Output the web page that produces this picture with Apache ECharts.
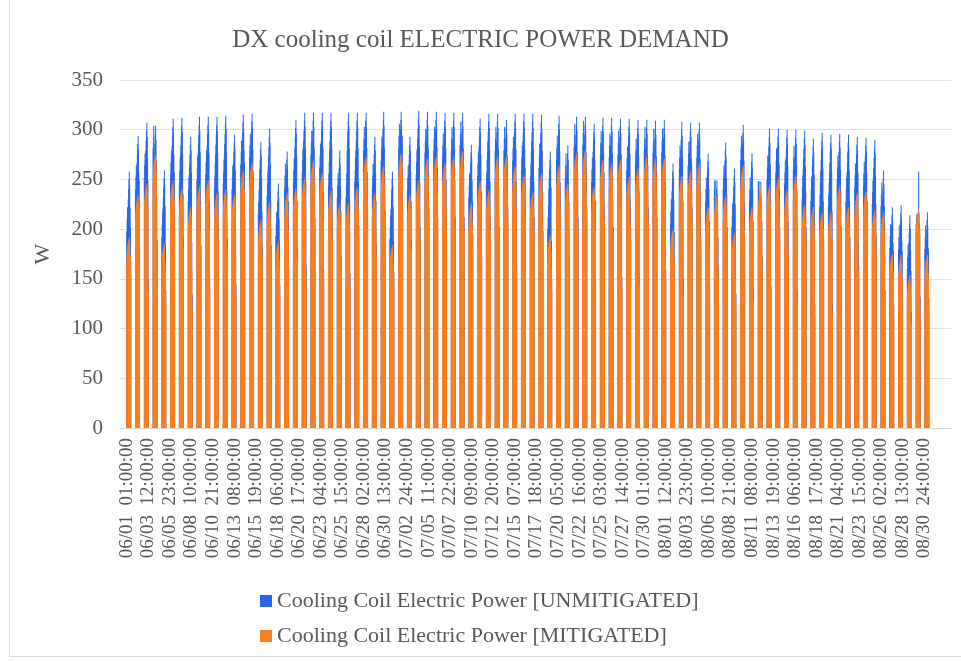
<!DOCTYPE html>
<html lang="en">

<head>
    <meta charset="UTF-8">
    <title>DX cooling coil ELECTRIC POWER DEMAND</title>
    <style>
        body {
            margin: 0px;
            padding: 0px;
            background: #ffffff;
        }

        #coilPower {
            width: 961px;
            height: 661px;
        }
    </style>
</head>

<body>
    <div id="coilPower"></div>
    <script src="https://cdn.jsdelivr.net/npm/echarts@6/dist/echarts.min.js"></script>
    <script>
        // hourly data, 06/01 01:00 .. 08/31 24:00, the coil runs 12 hours a day (01:00-12:00), 0 the rest
        var seriesNames = ['Cooling Coil Electric Power [UNMITIGATED]', 'Cooling Coil Electric Power [MITIGATED]'];
        var monthDays = [['06', 30], ['07', 31], ['08', 31]];
        var labelStep = 59;
        var yTicks = [0, 50, 100, 150, 200, 250, 300, 350];

        // one row per day, the 12 running hours (W)
        var unmitigated = [
            [198, 210, 222, 220, 230, 240, 250, 258, 244, 222, 202, 167],
            [240, 252, 264, 256, 266, 276, 286, 294, 280, 258, 249, 181],
            [252, 264, 276, 269, 279, 289, 299, 307, 293, 271, 249, 149],
            [281, 293, 304, 266, 276, 286, 296, 304, 290, 268, 234, 189],
            [192, 204, 216, 221, 231, 241, 251, 259, 245, 223, 185, 139],
            [255, 267, 279, 273, 283, 293, 303, 311, 297, 275, 257, 212],
            [247, 259, 271, 274, 284, 294, 304, 312, 298, 276, 235, 192],
            [228, 240, 252, 255, 265, 275, 285, 293, 279, 257, 187, 134],
            [249, 261, 273, 275, 285, 295, 305, 313, 299, 277, 228, 184],
            [255, 267, 279, 275, 285, 295, 305, 313, 299, 277, 228, 150],
            [242, 254, 266, 275, 285, 295, 305, 313, 299, 277, 238, 202],
            [246, 258, 270, 276, 286, 296, 306, 314, 300, 278, 238, 191],
            [240, 252, 264, 257, 267, 277, 287, 295, 281, 259, 198, 145],
            [265, 277, 289, 277, 287, 297, 307, 315, 301, 279, 267, 212],
            [272, 284, 296, 278, 288, 298, 308, 316, 302, 280, 258, 218],
            [215, 227, 239, 250, 260, 270, 280, 288, 274, 252, 218, 184],
            [233, 245, 257, 263, 273, 283, 293, 301, 287, 265, 228, 184],
            [193, 205, 217, 208, 218, 228, 238, 246, 232, 210, 188, 144],
            [242, 254, 266, 240, 250, 260, 270, 278, 264, 242, 228, 161],
            [247, 259, 271, 272, 282, 292, 302, 310, 296, 274, 228, 181],
            [257, 269, 281, 279, 289, 299, 309, 317, 303, 281, 248, 164],
            [275, 287, 299, 279, 289, 299, 309, 317, 303, 281, 249, 212],
            [262, 274, 286, 279, 289, 299, 309, 317, 303, 281, 238, 159],
            [244, 256, 268, 279, 289, 299, 309, 317, 303, 281, 242, 202],
            [232, 244, 256, 241, 251, 261, 271, 279, 265, 243, 218, 172],
            [232, 244, 256, 279, 289, 299, 309, 317, 303, 281, 228, 156],
            [248, 260, 272, 279, 289, 299, 309, 317, 303, 281, 248, 204],
            [279, 291, 303, 279, 289, 299, 309, 317, 303, 281, 257, 212],
            [242, 254, 266, 255, 265, 275, 285, 293, 279, 257, 228, 184],
            [269, 281, 293, 280, 290, 300, 310, 318, 304, 282, 258, 219],
            [190, 202, 214, 220, 230, 240, 250, 258, 244, 222, 188, 157],
            [282, 294, 306, 280, 290, 300, 310, 318, 304, 282, 294, 222],
            [240, 252, 264, 255, 265, 275, 285, 293, 279, 257, 228, 189],
            [255, 267, 279, 281, 291, 301, 311, 319, 305, 283, 248, 202],
            [277, 289, 301, 280, 290, 300, 310, 318, 304, 282, 258, 221],
            [279, 291, 303, 280, 290, 300, 310, 318, 304, 282, 261, 212],
            [272, 284, 296, 279, 289, 299, 309, 317, 303, 281, 250, 212],
            [279, 291, 303, 279, 289, 299, 309, 317, 303, 281, 249, 212],
            [284, 296, 308, 279, 289, 299, 309, 317, 303, 281, 264, 212],
            [232, 244, 256, 247, 257, 267, 277, 285, 271, 249, 228, 194],
            [254, 266, 278, 273, 283, 293, 303, 311, 297, 275, 238, 187],
            [245, 257, 269, 278, 288, 298, 308, 316, 302, 280, 248, 212],
            [279, 291, 303, 278, 288, 298, 308, 316, 302, 280, 242, 202],
            [279, 291, 303, 272, 282, 292, 302, 310, 296, 274, 264, 222],
            [269, 281, 293, 278, 288, 298, 308, 316, 302, 280, 248, 164],
            [260, 272, 284, 278, 288, 298, 308, 316, 302, 280, 262, 222],
            [242, 254, 266, 278, 288, 298, 308, 316, 302, 280, 248, 212],
            [262, 274, 286, 277, 287, 297, 307, 315, 301, 279, 238, 198],
            [200, 212, 224, 240, 250, 260, 270, 278, 264, 242, 188, 149],
            [270, 282, 294, 276, 286, 296, 306, 314, 300, 278, 247, 212],
            [252, 264, 276, 246, 256, 266, 276, 284, 270, 248, 228, 172],
            [282, 294, 306, 275, 285, 295, 305, 313, 299, 277, 258, 212],
            [285, 297, 309, 275, 285, 295, 305, 313, 299, 277, 262, 222],
            [248, 260, 272, 268, 278, 288, 298, 306, 292, 270, 228, 147],
            [275, 287, 299, 274, 284, 294, 304, 312, 298, 276, 257, 222],
            [272, 284, 296, 274, 284, 294, 304, 312, 298, 276, 230, 202],
            [275, 287, 299, 273, 283, 293, 303, 311, 297, 275, 248, 152],
            [259, 271, 283, 273, 283, 293, 303, 311, 297, 275, 232, 202],
            [267, 279, 291, 272, 282, 292, 302, 310, 296, 274, 238, 156],
            [279, 291, 303, 272, 282, 292, 302, 310, 296, 274, 264, 222],
            [277, 289, 301, 271, 281, 291, 301, 309, 295, 273, 258, 212],
            [277, 289, 301, 272, 282, 292, 302, 310, 296, 274, 248, 159],
            [206, 218, 230, 228, 238, 248, 258, 266, 252, 230, 197, 162],
            [260, 272, 284, 270, 280, 290, 300, 308, 294, 272, 228, 150],
            [264, 276, 288, 269, 279, 289, 299, 307, 293, 271, 265, 222],
            [272, 284, 296, 269, 279, 289, 299, 307, 293, 271, 220, 192],
            [228, 240, 252, 238, 248, 258, 268, 276, 262, 240, 208, 144],
            [240, 249, 249, 211, 221, 231, 241, 249, 235, 213, 192, 162],
            [240, 252, 264, 249, 259, 269, 279, 287, 273, 251, 235, 202],
            [202, 214, 226, 223, 233, 243, 253, 261, 247, 225, 178, 135],
            [270, 282, 294, 267, 277, 287, 297, 305, 291, 269, 227, 192],
            [228, 240, 252, 238, 248, 258, 268, 276, 262, 240, 208, 140],
            [248, 248, 248, 210, 220, 230, 240, 248, 234, 212, 208, 172],
            [250, 262, 274, 263, 273, 283, 293, 301, 287, 265, 228, 142],
            [257, 269, 281, 263, 273, 283, 293, 301, 287, 265, 240, 202],
            [245, 257, 269, 262, 272, 282, 292, 300, 286, 264, 207, 172],
            [260, 272, 284, 262, 272, 282, 292, 300, 286, 264, 238, 139],
            [230, 242, 254, 261, 271, 281, 291, 299, 285, 263, 238, 202],
            [228, 240, 252, 253, 263, 273, 283, 291, 277, 255, 218, 125],
            [223, 235, 247, 259, 269, 279, 289, 297, 283, 261, 228, 192],
            [223, 235, 247, 257, 267, 277, 287, 295, 281, 259, 218, 125],
            [250, 262, 274, 258, 268, 278, 288, 296, 282, 260, 238, 202],
            [228, 240, 252, 257, 267, 277, 287, 295, 281, 259, 228, 192],
            [242, 254, 266, 255, 265, 275, 285, 293, 279, 257, 187, 162],
            [244, 256, 268, 254, 264, 274, 284, 292, 278, 256, 228, 122],
            [225, 237, 249, 252, 262, 272, 282, 290, 276, 254, 225, 192],
            [223, 235, 247, 221, 231, 241, 251, 259, 245, 223, 208, 139],
            [181, 193, 205, 184, 194, 204, 214, 222, 208, 186, 178, 124],
            [180, 192, 204, 186, 196, 206, 216, 224, 210, 188, 178, 131],
            [160, 172, 184, 176, 186, 196, 206, 214, 200, 178, 158, 117],
            [205, 210, 215, 212, 214, 216, 218, 258, 216, 206, 200, 132],
            [180, 192, 204, 179, 189, 199, 209, 217, 203, 181, 178, 131]
        ];

        var mitigated = [
            [168, 176, 180, 184, 186, 188, 190, 192, 184, 174, 174, 155],
            [210, 218, 222, 226, 228, 230, 232, 234, 226, 216, 221, 169],
            [0, 230, 234, 238, 240, 242, 244, 246, 238, 228, 221, 137],
            [251, 259, 263, 267, 269, 271, 273, 275, 267, 257, 206, 177],
            [162, 170, 174, 178, 180, 182, 184, 186, 178, 168, 157, 127],
            [225, 233, 237, 241, 243, 245, 247, 249, 241, 231, 229, 200],
            [217, 225, 229, 233, 235, 237, 239, 241, 233, 223, 207, 180],
            [198, 206, 210, 214, 216, 218, 220, 222, 214, 204, 159, 122],
            [219, 227, 231, 235, 237, 239, 241, 243, 235, 225, 200, 172],
            [225, 233, 237, 241, 243, 245, 247, 249, 241, 231, 200, 138],
            [212, 220, 224, 228, 230, 232, 234, 236, 228, 218, 210, 190],
            [216, 224, 228, 232, 234, 236, 238, 240, 232, 222, 210, 179],
            [210, 218, 222, 226, 228, 230, 232, 234, 226, 216, 170, 133],
            [235, 243, 247, 251, 253, 255, 257, 259, 251, 241, 239, 200],
            [242, 250, 254, 258, 260, 262, 264, 266, 258, 248, 230, 206],
            [0, 193, 197, 201, 203, 205, 207, 209, 201, 191, 190, 172],
            [203, 211, 215, 219, 221, 223, 225, 227, 219, 209, 200, 172],
            [163, 171, 175, 179, 181, 183, 185, 187, 179, 169, 160, 132],
            [212, 220, 224, 228, 230, 232, 234, 236, 228, 218, 200, 149],
            [217, 225, 229, 233, 235, 237, 239, 241, 233, 223, 200, 169],
            [227, 235, 239, 243, 245, 247, 249, 251, 243, 233, 220, 152],
            [245, 253, 257, 261, 263, 265, 267, 269, 261, 251, 221, 200],
            [232, 240, 244, 248, 250, 252, 254, 256, 248, 238, 210, 147],
            [214, 222, 226, 230, 232, 234, 236, 238, 230, 220, 214, 190],
            [202, 210, 214, 218, 220, 222, 224, 226, 218, 208, 190, 160],
            [202, 210, 214, 218, 220, 222, 224, 226, 218, 208, 200, 144],
            [218, 226, 230, 234, 236, 238, 240, 242, 234, 224, 220, 192],
            [249, 257, 261, 265, 267, 269, 271, 273, 265, 255, 229, 200],
            [212, 220, 224, 228, 230, 232, 234, 236, 228, 218, 200, 172],
            [239, 247, 251, 255, 257, 259, 261, 263, 255, 245, 230, 207],
            [160, 168, 172, 176, 178, 180, 182, 184, 176, 166, 160, 145],
            [252, 260, 264, 268, 270, 272, 274, 276, 268, 258, 266, 210],
            [210, 218, 222, 226, 228, 230, 232, 234, 226, 216, 200, 177],
            [0, 233, 237, 241, 243, 245, 247, 249, 241, 231, 220, 190],
            [247, 255, 259, 263, 265, 267, 269, 271, 263, 253, 230, 209],
            [249, 257, 261, 265, 267, 269, 271, 273, 265, 255, 233, 200],
            [242, 250, 254, 258, 260, 262, 264, 266, 258, 248, 222, 200],
            [249, 257, 261, 265, 267, 269, 271, 273, 265, 255, 221, 200],
            [254, 262, 266, 270, 272, 274, 276, 278, 270, 260, 236, 200],
            [202, 210, 214, 218, 220, 222, 224, 226, 218, 208, 200, 182],
            [224, 232, 236, 240, 242, 244, 246, 248, 240, 230, 210, 175],
            [215, 223, 227, 231, 233, 235, 237, 239, 231, 221, 220, 200],
            [249, 257, 261, 265, 267, 269, 271, 273, 265, 255, 214, 190],
            [249, 257, 261, 265, 267, 269, 271, 273, 265, 255, 236, 210],
            [239, 247, 251, 255, 257, 259, 261, 263, 255, 245, 220, 152],
            [230, 238, 242, 246, 248, 250, 252, 254, 246, 236, 234, 210],
            [212, 220, 224, 228, 230, 232, 234, 236, 228, 218, 220, 200],
            [232, 240, 244, 248, 250, 252, 254, 256, 248, 238, 210, 186],
            [170, 178, 182, 186, 188, 190, 192, 194, 186, 176, 160, 137],
            [240, 248, 252, 256, 258, 260, 262, 264, 256, 246, 219, 200],
            [222, 230, 234, 238, 240, 242, 244, 246, 238, 228, 200, 160],
            [0, 260, 264, 268, 270, 272, 274, 276, 268, 258, 230, 200],
            [255, 263, 267, 271, 273, 275, 277, 279, 271, 261, 234, 210],
            [218, 226, 230, 234, 236, 238, 240, 242, 234, 224, 200, 135],
            [245, 253, 257, 261, 263, 265, 267, 269, 261, 251, 229, 210],
            [242, 250, 254, 258, 260, 262, 264, 266, 258, 248, 202, 190],
            [245, 253, 257, 261, 263, 265, 267, 269, 261, 251, 220, 140],
            [229, 237, 241, 245, 247, 249, 251, 253, 245, 235, 204, 190],
            [237, 245, 249, 253, 255, 257, 259, 261, 253, 243, 210, 144],
            [249, 257, 261, 265, 267, 269, 271, 273, 265, 255, 236, 210],
            [247, 255, 259, 263, 265, 267, 269, 271, 263, 253, 230, 200],
            [247, 255, 259, 263, 265, 267, 269, 271, 263, 253, 220, 147],
            [176, 184, 188, 192, 194, 196, 198, 200, 192, 182, 169, 150],
            [230, 238, 242, 246, 248, 250, 252, 254, 246, 236, 200, 138],
            [234, 242, 246, 250, 252, 254, 256, 258, 250, 240, 237, 210],
            [242, 250, 254, 258, 260, 262, 264, 266, 258, 248, 192, 180],
            [198, 206, 210, 214, 216, 218, 220, 222, 214, 204, 180, 132],
            [210, 218, 222, 226, 228, 230, 232, 234, 226, 216, 164, 150],
            [210, 218, 222, 226, 228, 230, 232, 234, 226, 216, 207, 190],
            [0, 180, 184, 188, 190, 192, 194, 196, 188, 178, 150, 123],
            [240, 248, 252, 256, 258, 260, 262, 264, 256, 246, 199, 180],
            [198, 206, 210, 214, 216, 218, 220, 222, 214, 204, 180, 128],
            [218, 226, 230, 234, 236, 238, 240, 242, 234, 224, 180, 160],
            [220, 228, 232, 236, 238, 240, 242, 244, 236, 226, 200, 130],
            [227, 235, 239, 243, 245, 247, 249, 251, 243, 233, 212, 190],
            [215, 223, 227, 231, 233, 235, 237, 239, 231, 221, 179, 160],
            [230, 238, 242, 246, 248, 250, 252, 254, 246, 236, 210, 127],
            [200, 208, 212, 216, 218, 220, 222, 224, 216, 206, 210, 190],
            [198, 206, 210, 214, 216, 218, 220, 222, 214, 204, 190, 113],
            [193, 201, 205, 209, 211, 213, 215, 217, 209, 199, 200, 180],
            [193, 201, 205, 209, 211, 213, 215, 217, 209, 199, 190, 113],
            [220, 228, 232, 236, 238, 240, 242, 244, 236, 226, 210, 190],
            [0, 206, 210, 214, 216, 218, 220, 222, 214, 204, 200, 180],
            [212, 220, 224, 228, 230, 232, 234, 236, 228, 218, 159, 150],
            [214, 222, 226, 230, 232, 234, 236, 238, 230, 220, 200, 110],
            [195, 203, 207, 211, 213, 215, 217, 219, 211, 201, 197, 180],
            [193, 201, 205, 209, 211, 213, 215, 217, 209, 199, 180, 127],
            [0, 159, 163, 167, 169, 171, 173, 175, 167, 157, 150, 112],
            [150, 158, 162, 166, 168, 170, 172, 174, 166, 156, 150, 119],
            [130, 138, 142, 146, 148, 150, 152, 154, 146, 136, 130, 105],
            [195, 203, 207, 211, 213, 215, 217, 219, 211, 201, 194, 120],
            [150, 158, 162, 166, 168, 170, 172, 174, 166, 156, 150, 119]
        ];

        // empty category slots before and after the data, like the blank space in the original plot area
        var padBefore = 18;
        var padAfter = 48;

        var option = null;

        coilChart()

        function coilChart() {
            var dom = document.getElementById("coilPower");
            var myChart = echarts.init(dom);

            var categories = [];
            var unmData = [];
            var mitData = [];
            for (var i = 0; i < padBefore; i++) {
                categories.push('');
                unmData.push(null);
                mitData.push(null);
            }
            var d = 0;
            monthDays.forEach(function (m) {
                for (var day = 1; day <= m[1]; day++) {
                    var dd = day < 10 ? '0' + day : '' + day;
                    for (var h = 1; h <= 24; h++) {
                        var hh = h < 10 ? '0' + h : '' + h;
                        categories.push(m[0] + '/' + dd + '  ' + hh + ':00:00');
                        var on = h <= unmitigated[d].length;
                        unmData.push(on ? unmitigated[d][h - 1] : 0);
                        mitData.push(on ? mitigated[d][h - 1] : 0);
                    }
                    d++;
                }
            });
            var dataCount = categories.length - padBefore;
            for (var j = 0; j < padAfter; j++) {
                categories.push('');
                unmData.push(null);
                mitData.push(null);
            }

            var font = '"Liberation Serif", "Times New Roman", serif';

            option = {
                animation: false,
                color: ['#2767e6', '#fd7f1d'],
                textStyle: { fontFamily: font },
                title: {
                    text: 'DX cooling coil ELECTRIC POWER DEMAND',
                    left: 'center',
                    top: 23,
                    textStyle: {
                        fontFamily: font,
                        fontSize: 25,
                        fontWeight: 'normal',
                        color: '#595959'
                    }
                },
                legend: {
                    orient: 'vertical',
                    left: 255,
                    top: 585,
                    itemGap: 13,
                    itemWidth: 12,
                    itemHeight: 12,
                    icon: 'rect',
                    textStyle: { fontFamily: font, fontSize: 22, color: '#595959' },
                    data: seriesNames
                },
                graphic: [{
                    type: 'rect',
                    shape: { x: 9.5, y: -2, width: 960, height: 658.5 },
                    style: { fill: 'none', stroke: '#d9d9d9', lineWidth: 1 },
                    silent: true
                }],
                grid: {
                    left: 120,
                    right: 10,
                    top: 80,
                    bottom: 233
                },
                xAxis: {
                    type: 'category',
                    data: categories,
                    axisLine: { show: true, lineStyle: { color: '#d9d9d9' } },
                    axisTick: { show: false },
                    axisLabel: {
                        rotate: 90,
                        margin: 10,
                        fontFamily: font,
                        fontSize: 19,
                        color: '#595959',
                        interval: function (index) {
                            var k = index - padBefore;
                            return k >= 0 && k < dataCount && k % labelStep === 0;
                        }
                    }
                },
                yAxis: {
                    type: 'value',
                    min: yTicks[0],
                    max: yTicks[yTicks.length - 1],
                    interval: yTicks[1] - yTicks[0],
                    name: 'W',
                    nameLocation: 'middle',
                    nameRotate: 90,
                    nameGap: 66,
                    nameTextStyle: { fontFamily: font, fontSize: 22, color: '#595959' },
                    axisLine: { show: false },
                    axisTick: { show: false },
                    axisLabel: { margin: 17, fontFamily: font, fontSize: 21, color: '#595959' },
                    splitLine: { lineStyle: { color: '#e3e3e3', width: 1 } }
                },
                series: [{
                    name: seriesNames[0],
                    type: 'bar',
                    barGap: '-100%',
                    barCategoryGap: '0%',
                    data: unmData
                }, {
                    name: seriesNames[1],
                    type: 'bar',
                    barGap: '-100%',
                    barCategoryGap: '0%',
                    data: mitData
                }]
            };

            myChart.setOption(option, true);
        }
    </script>
</body>

</html>
